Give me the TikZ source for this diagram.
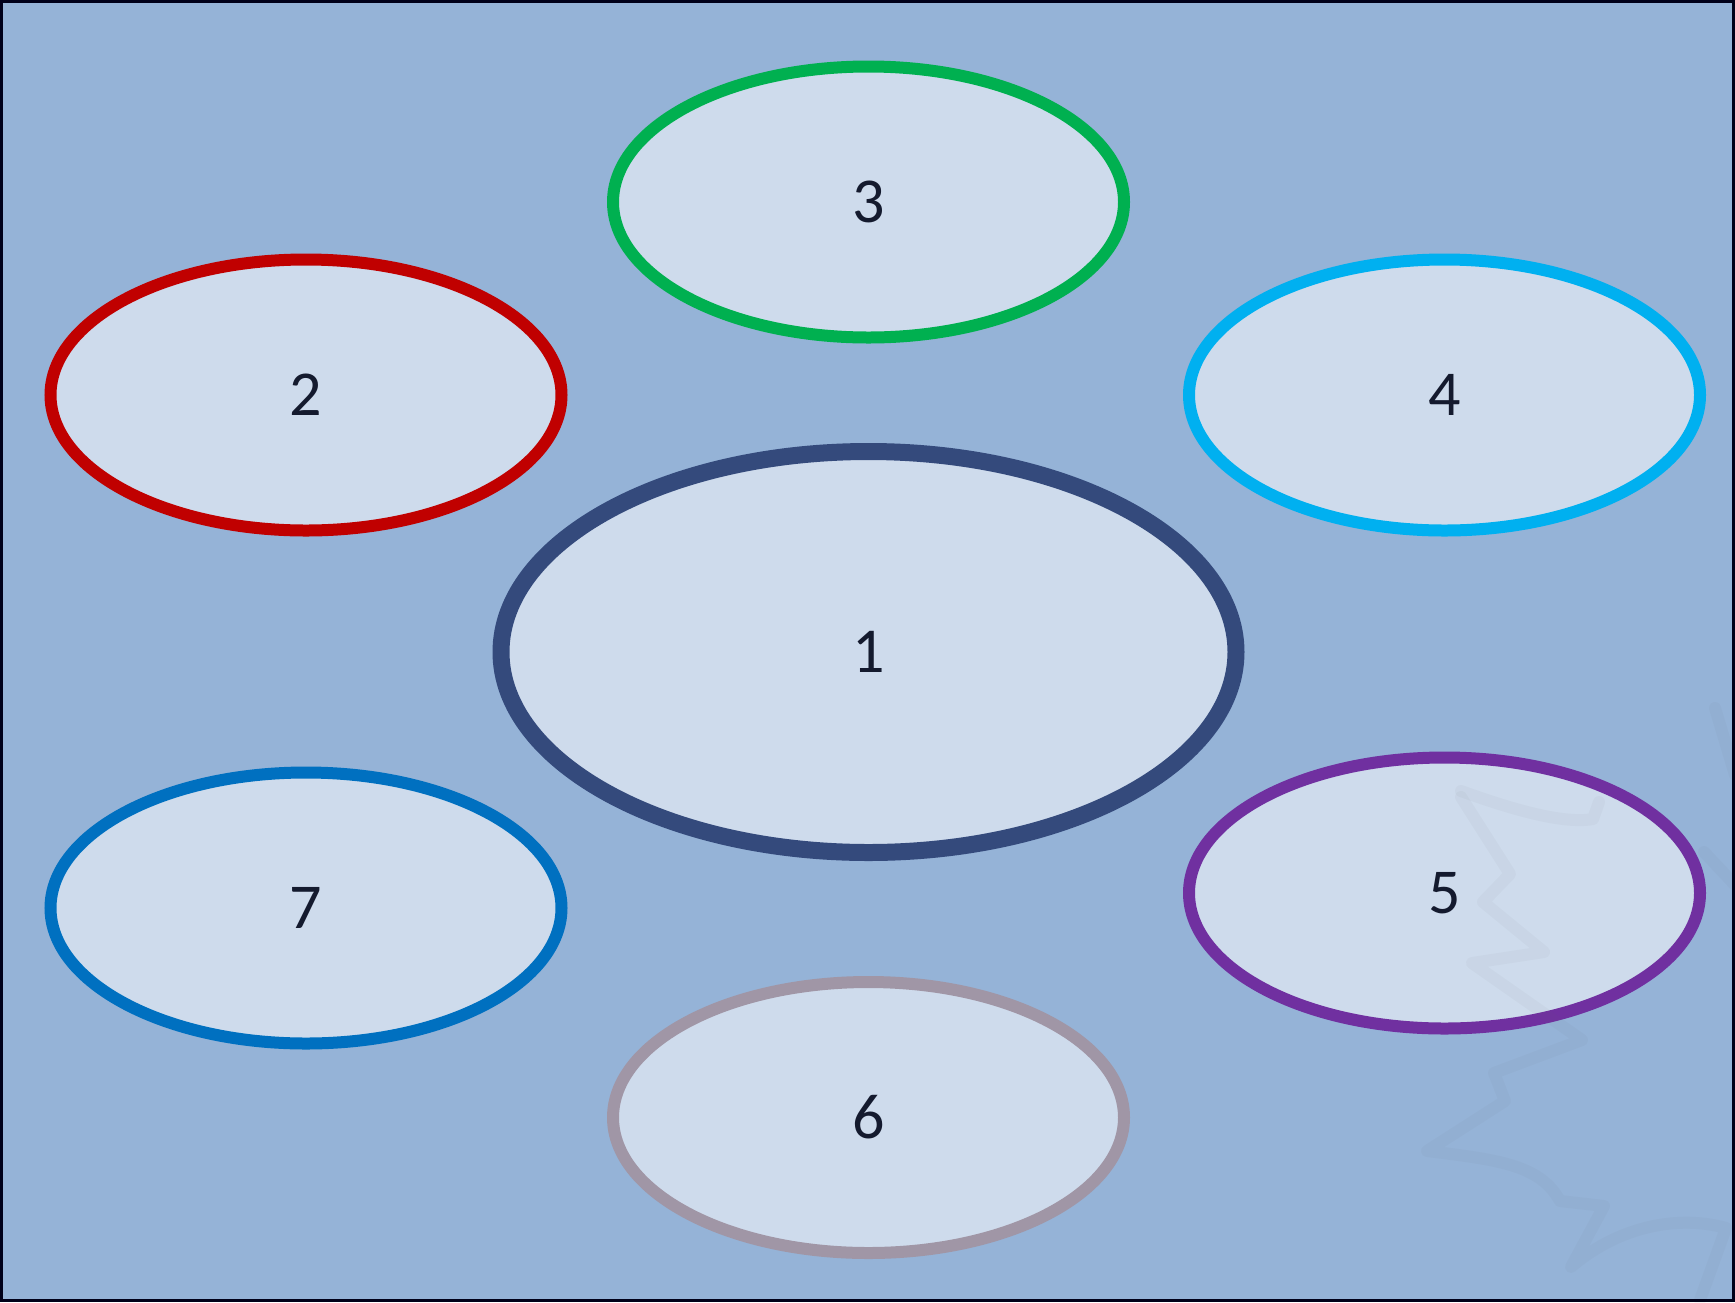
\documentclass[tikz,border=0pt]{standalone}
\usepackage{fontspec}
\setmainfont{Carlito}
\usetikzlibrary{shapes.geometric}
\definecolor{bgblue}{HTML}{95B3D7}
\definecolor{fillblue}{HTML}{CEDBEC}
\definecolor{txt}{HTML}{141A2E}
\definecolor{cgreen}{HTML}{00B050}
\definecolor{cred}{HTML}{C00000}
\definecolor{ccyan}{HTML}{00B0F0}
\definecolor{cnavy}{HTML}{344A7C}
\definecolor{cblue}{HTML}{0070C0}
\definecolor{cpurple}{HTML}{7030A0}
\definecolor{cgray}{HTML}{A096A6}
\tikzset{
  oval/.style={ellipse, draw, fill=fillblue, line width=6pt, inner sep=0pt,
    minimum width=255.5pt, minimum height=135.5pt, text=txt,
    font=\fontsize{32}{36}\selectfont},
  bigoval/.style={oval, line width=8.5pt, minimum width=367.5pt, minimum height=200.5pt},
  squig/.style={draw=black!60, draw opacity=0.045, line width=6pt, line cap=round, line join=round}
}
\begin{document}
\begin{tikzpicture}[x=0.5pt,y=-0.5pt]
\useasboundingbox (0,0) rectangle (1735,1302);
\fill[bgblue] (0,0) rectangle (1735,1302);
% ellipses
\node[bigoval, draw=cnavy] (n1) at (868.5,652) {1};
\node[oval, draw=cred] (n2) at (306,395) {2};
\node[oval, draw=cgreen] (n3) at (868.5,202) {3};
\node[oval, draw=ccyan] (n4) at (1444.5,395) {4};
\node[oval, draw=cpurple] (n5) at (1444.5,893) {5};
\node[oval, draw=cgray] (n6) at (868.5,1117.5) {6};
\node[oval, draw=cblue] (n7) at (306,908) {7};
% faint background squiggle
\draw[squig] (1461,797) -- (1510,874) -- (1483,902) -- (1544,952) -- (1472,963) -- (1582,1040) -- (1494,1073) -- (1505,1101) -- (1427,1151) .. controls (1500,1160) and (1540,1165) .. (1560,1201) -- (1604,1206) -- (1571,1267) .. controls (1620,1225) and (1680,1215) .. (1726,1228) -- (1700,1300);
\draw[squig] (1461,791) .. controls (1500,805) and (1560,825) .. (1593,819) -- (1599,802);
\draw[squig] (1715,708) -- (1735,775);
\draw[squig] (1704,852) -- (1735,885);
% frame
\draw[line width=1.5pt, draw=black!90!blue] (1.5,1.5) rectangle (1733.5,1300.5);
\end{tikzpicture}
\end{document}
